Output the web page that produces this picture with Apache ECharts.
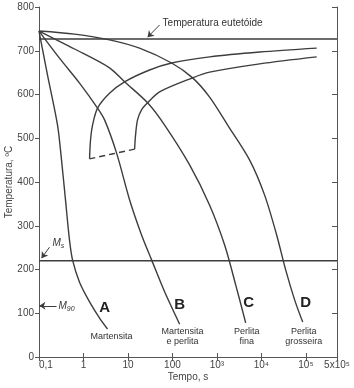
<!DOCTYPE html>
<html>
<head>
<meta charset="utf-8">
<script src="https://cdn.jsdelivr.net/npm/echarts@6/dist/echarts.min.js"></script>
<style>
  html, body { margin: 0; padding: 0; background: #fff; }
  #chart { width: 354px; height: 388px; }
</style>
</head>
<body>
<div id="chart"></div>
<script>
// tick labels of the log time axis
const xTickValues = [0.1, 1, 10, 100, 1e3, 1e4, 1e5, 5e5];
const xTickLabels = ['0,1', '1', '10', '100', '10³', '10⁴', '10⁵', '5x10⁵'];

// cooling curves (time s, temperature ºC)
const curveATime = [0.1, 0.155, 0.261, 0.321, 0.394, 0.485, 0.567, 0.815, 1.37, 2.30, 3.47];
const curveATemp = [745, 645, 530, 450, 359, 267, 222, 171, 126, 89, 64];
const curveBTime = [0.1, 0.289, 0.815, 2.07, 2.98, 5.55, 10.9, 20.2, 34.0, 66.7, 145];
const curveBTemp = [745, 683, 626, 569, 542, 466, 359, 279, 222, 149, 75];
const curveCTime = [0.1, 0.629, 3.85, 8.39, 27.6, 66.7, 243, 685, 1490, 2640, 4430];
const curveCTemp = [745, 704, 661, 629, 581, 530, 439, 347, 256, 165, 78];
const curveDTime = [0.1, 0.629, 3.85, 18.2, 95.7, 284, 685, 1740, 5440, 11800, 22000, 35100, 56000, 84700];
const curveDTemp = [745, 738, 725, 706, 672, 638, 594, 530, 450, 370, 279, 199, 130, 80];

// transformation start / finish (nose) curves
const startTime = [1.37, 1.44, 1.60, 2.07, 3.85, 8.39, 30.6, 95.7, 685, 9140, 175000];
const startTemp = [453, 496, 530, 569, 603, 629, 656, 672, 686, 697, 706];
const finishTime = [14.1, 14.8, 16.4, 20.2, 27.6, 51.4, 284, 685, 9140, 175000];
const finishTemp = [475, 507, 542, 565, 581, 606, 638, 651, 670, 686];
const dashTime = [1.37, 14.1];
const dashTemp = [453, 475];

// horizontal reference temperatures
const eutectoidTemp = 727;
const msTemp = 220;
const m90Temp = 117;

// curve letters and product names
const letters = ['A', 'B', 'C', 'D'];
const letterTime = [2.98, 145, 5160, 99100];
const letterTemp = [112, 119, 123, 123];
const products = ['Martensita', 'Martensita\ne perlita', 'Perlita\nfina', 'Perlita\ngrosseira'];
const productTime = [4.28, 169, 4660, 89300];
const productTemp = [46, 47, 47, 47];

const lineColor = '#3d3d3d';
const textColor = '#333';
const font = 'Liberation Sans, Arial, sans-serif';

const chart = echarts.init(document.getElementById('chart'));

const zip = (t, v) => t.map((x, i) => [x, v[i]]);

// text placed at a data coordinate
const note = (text, time, temp, label) => ({
  name: text,
  coord: [time, temp],
  symbol: 'circle',
  symbolSize: 0,
  label: { show: true, formatter: text, color: textColor, fontFamily: font, ...label },
});

// arrow between two data coordinates
const arrow = (from, to, curveness) => ({
  silent: true,
  symbol: ['none', 'arrow'],
  symbolSize: 6,
  label: { show: false },
  lineStyle: { color: lineColor, width: 1, type: 'solid', curveness },
  data: [[{ coord: from }, { coord: to }]],
});

const curve = (t, v, extra) => ({
  type: 'line',
  data: zip(t, v),
  smooth: 0.3,
  showSymbol: false,
  symbol: 'none',
  silent: true,
  lineStyle: { color: lineColor, width: 1.4 },
  ...extra,
});

const letterNote = (i) => [
  note(letters[i], letterTime[i], letterTemp[i], { fontSize: 15, fontWeight: 'bold', color: '#222' }),
  note(products[i], productTime[i], productTemp[i], { fontSize: 9, lineHeight: 10 }),
];

const subRich = {
  i: { fontStyle: 'italic', fontSize: 10, fontFamily: font, color: textColor },
  s: { fontStyle: 'italic', fontSize: 7, fontFamily: font, color: textColor, padding: [6, 0, 0, 0] },
};

const xLabel = (v) => {
  const i = xTickValues.findIndex((t) => Math.abs(Math.log10(v) - Math.log10(t)) < 0.01);
  return i < 0 ? '' : xTickLabels[i];
};

const axisCommon = {
  axisLine: { show: true, lineStyle: { color: '#555', width: 1 } },
  splitLine: { show: false },
  minorTick: { show: false },
};

chart.setOption({
  animation: false,
  grid: { left: 39, right: 17, top: 7, bottom: 31, outerBoundsMode: 'none' },
  xAxis: [
    {
      ...axisCommon,
      type: 'log',
      logBase: 10,
      min: 0.1,
      max: 5e5,
      position: 'bottom',
      axisTick: { show: true, inside: true, length: 4, lineStyle: { color: '#555' } },
      axisLabel: {
        fontSize: 10,
        fontFamily: font,
        color: '#444',
        margin: 3,
        showMinLabel: true,
        showMaxLabel: true,
        alignMinLabel: 'left',
        hideOverlap: false,
        formatter: xLabel,
      },
      name: 'Tempo, s',
      nameLocation: 'middle',
      nameGap: 15,
      nameMoveOverlap: false,
      nameTextStyle: { fontSize: 10, fontFamily: font, color: '#444' },
    },
    {
      ...axisCommon,
      type: 'log',
      logBase: 10,
      min: 0.1,
      max: 5e5,
      position: 'top',
      axisTick: { show: true, inside: true, length: 4, lineStyle: { color: '#555' } },
      axisLabel: { show: false },
    },
  ],
  yAxis: [
    {
      ...axisCommon,
      type: 'value',
      min: 0,
      max: 800,
      interval: 100,
      position: 'left',
      axisTick: { show: true, inside: false, length: 4, lineStyle: { color: '#555' } },
      axisLabel: { fontSize: 10, fontFamily: font, color: '#444', margin: 5 },
      name: 'Temperatura, ºC',
      nameLocation: 'middle',
      nameGap: 25,
      nameMoveOverlap: false,
      nameTextStyle: { fontSize: 10, fontFamily: font, color: '#444' },
    },
    {
      ...axisCommon,
      type: 'value',
      min: 0,
      max: 800,
      interval: 100,
      position: 'right',
      axisTick: { show: true, inside: true, length: 5, lineStyle: { color: '#555' } },
      axisLabel: { show: false },
    },
  ],
  series: [
    curve([0.1, 5e5], [eutectoidTemp, eutectoidTemp], {
      markLine: arrow([51.4, 759], [27.6, 731], -0.35),
      markPoint: { silent: true, data: [note('Temperatura eutetóide', 57, 763, { position: 'right', distance: 1, fontSize: 10 })] },
    }),
    curve([0.1, 5e5], [msTemp, msTemp], {
      markLine: arrow([0.172, 251], [0.114, 226], -0.3),
      markPoint: {
        silent: true,
        data: [note('{i|M}{s|s}', 0.191, 261, { position: 'right', distance: 1, rich: subRich })],
      },
    }),
    curve(curveATime, curveATemp, {
      markLine: arrow([0.248, m90Temp], [0.102, m90Temp], 0),
      markPoint: {
        silent: true,
        data: [note('{i|M}{s|90}', 0.261, m90Temp, { position: 'right', distance: 1, rich: subRich }), ...letterNote(0)],
      },
    }),
    curve(curveBTime, curveBTemp, { markPoint: { silent: true, data: letterNote(1) } }),
    curve(curveCTime, curveCTemp, { markPoint: { silent: true, data: letterNote(2) } }),
    curve(curveDTime, curveDTemp, { markPoint: { silent: true, data: letterNote(3) } }),
    curve(startTime, startTemp),
    curve(finishTime, finishTemp),
    curve(dashTime, dashTemp, { lineStyle: { color: lineColor, width: 1.4, type: [6, 4] } }),
  ],
});
</script>
</body>
</html>
